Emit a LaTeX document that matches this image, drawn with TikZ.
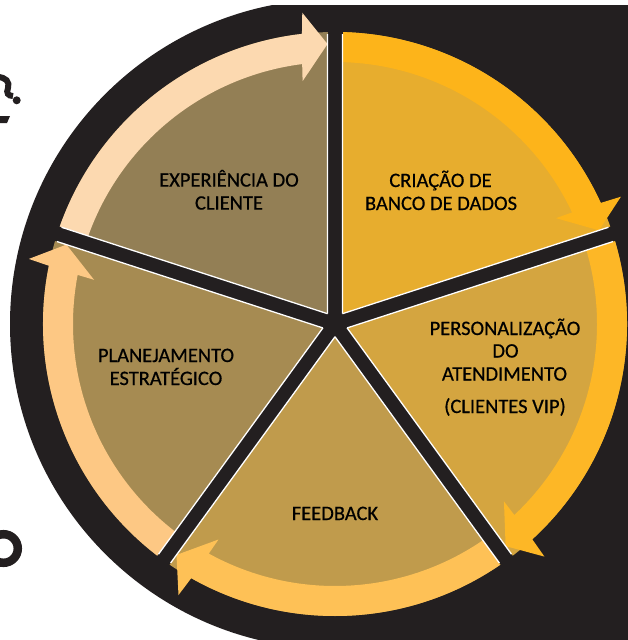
\documentclass[tikz,border=0pt]{standalone}
\usepackage{fontspec}
\setmainfont{Carlito}
\newfontfamily\lblfont[FakeBold=0.5]{Carlito}
\definecolor{bk}{HTML}{231F20}
\definecolor{wexp}{HTML}{937F55}
\definecolor{wcri}{HTML}{E7AD2E}
\definecolor{wper}{HTML}{D4A540}
\definecolor{wfee}{HTML}{C09B4C}
\definecolor{wpla}{HTML}{A68B52}
\definecolor{aexp}{HTML}{FCD9B0}
\definecolor{acri}{HTML}{FDB41A}
\definecolor{aper}{HTML}{FDB726}
\definecolor{afee}{HTML}{FEC156}
\definecolor{apla}{HTML}{FDC884}
\begin{document}
\begin{tikzpicture}[x=1pt,y=1pt,
  lbl/.style={font=\lblfont\fontsize{20.5}{23}\selectfont, text=black, inner sep=0pt, anchor=base},
  spoke/.style={bk, line width=15pt},
  edgeline/.style={white, line width=1.3pt}]
\useasboundingbox (0,0) rectangle (628,-640);
% black background
\begin{scope}
  \clip (0,-5) rectangle (628,-640);
  \fill[bk] (335,-324) circle[radius=325];
  \fill[bk] (335,-5) rectangle (628,-640);
\end{scope}
% partial glyphs at the left edge
\draw[bk, line width=6pt] (-3,-77) .. controls (6,-77) and (10,-82) .. (8,-88) .. controls (6,-93) and (8,-96) .. (13,-96);
\fill[bk] (16.7,-100.3) circle[radius=4];
\fill[bk] (0,-116) -- (10,-116) -- (7,-123) -- (0,-123) -- cycle;
\draw[bk, line width=8.5pt] (3.5,-548.5) circle[radius=14.3];
% wheel
\begin{scope}[shift={(335,-324)}]
  \foreach \a/\wc/\ac in {162/wexp/aexp, 90/wcri/acri, 18/wper/aper, -54/wfee/afee, -126/wpla/apla}{
    \pgfmathsetmacro\b{\a-72}
    \fill[\wc] (0,0) -- (\a:292pt) arc[start angle=\a, end angle=\b, radius=292pt] -- cycle;
    \fill[\ac] (\a:292pt) arc[start angle=\a, end angle={\b+6.5}, radius=292pt]
      -- ({\b+6}:313pt) -- ({\b+1.53}:280.1pt) -- ({\b+7.6}:245pt) -- ({\b+7.2}:262pt)
      arc[start angle={\b+7.2}, end angle=\a, radius=262pt] -- cycle;
  }
  \foreach \s in {90,18,-54,-126,162}{
    \draw[spoke] (0,0) -- (\s:294pt);
  }
  \fill[bk] (0,0) circle[radius=9pt];
  \foreach \s in {90,18,-54,-126,162}{
    \draw[edgeline] ({\s+36}:12.74pt) -- ({\s+1.48}:290.1pt);
    \draw[edgeline] ({\s-36}:12.74pt) -- ({\s-1.48}:290.1pt);
  }
\end{scope}
% labels
\node[lbl] (exp1) at (229,-186.6) {EXPERIÊNCIA DO};
\node[lbl] (exp2) at (229,-209.6) {CLIENTE};
\node[lbl] (cri1) at (440.5,-187) {CRIAÇÃO DE};
\node[lbl] (cri2) at (441,-210) {BANCO DE DADOS};
\node[lbl] (per1) at (505,-335) {PERSONALIZAÇÃO};
\node[lbl] (per2) at (505.5,-357.5) {DO};
\node[lbl] (per3) at (504.5,-380.5) {ATENDIMENTO};
\node[lbl] (per4) at (505,-413) {(CLIENTES VIP)};
\node[lbl] (pla1) at (166,-362) {PLANEJAMENTO};
\node[lbl] (pla2) at (166,-385) {ESTRATÉGICO};
\node[lbl] (fee) at (335,-520) {FEEDBACK};
\end{tikzpicture}
\end{document}
